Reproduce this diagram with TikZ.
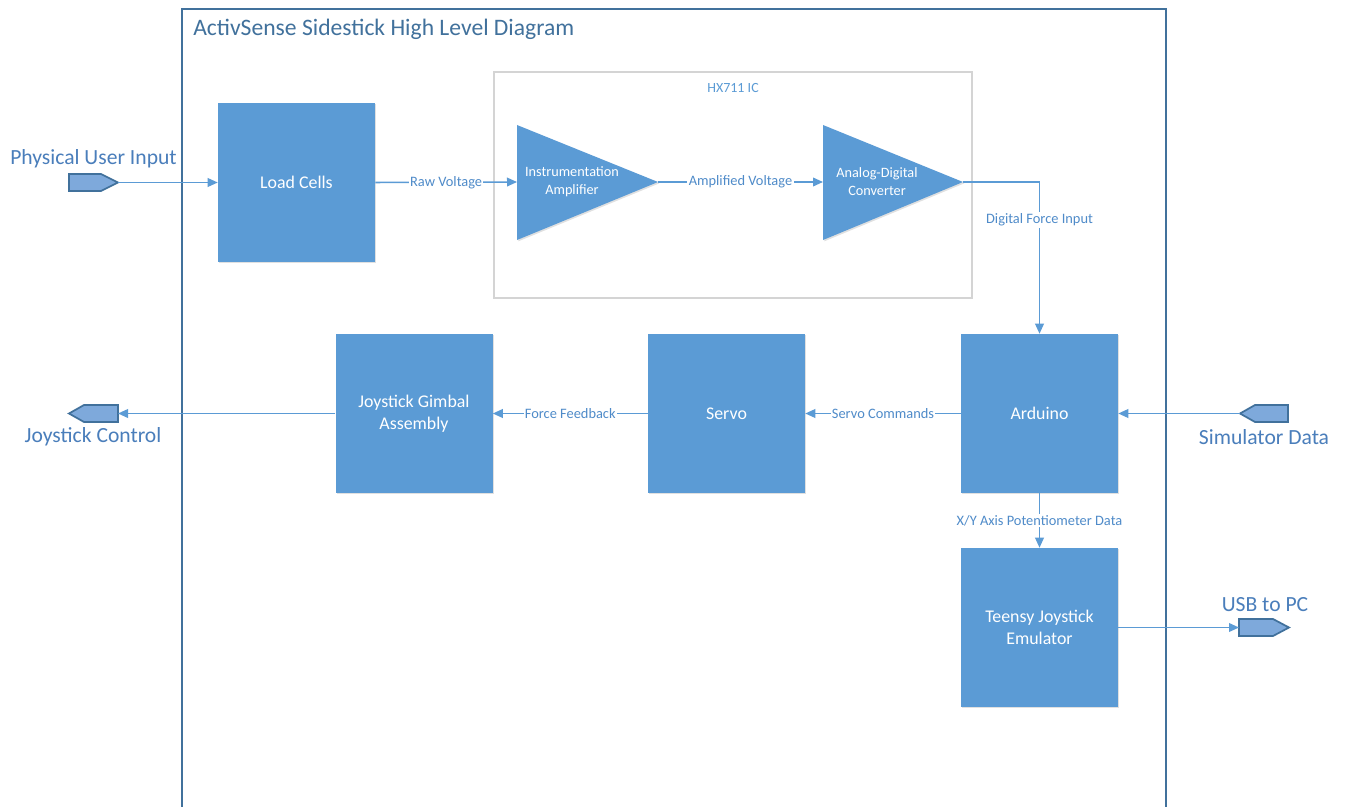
\documentclass[tikz,border=0pt]{standalone}
\usepackage{fontspec}
\setmainfont{Carlito}
\usetikzlibrary{arrows.meta,shadows}
\definecolor{boxblue}{HTML}{5B9BD5}
\definecolor{frameblue}{HTML}{41719C}
\definecolor{lblblue}{HTML}{4A7EBB}
\definecolor{elblblue}{HTML}{4F8BC9}
\definecolor{penfill}{HTML}{7EA9DB}
\definecolor{icgray}{HTML}{D4D4D4}
\begin{document}
\begin{tikzpicture}[x=0.75pt,y=-0.75pt,
  block/.style={fill=boxblue, text=white, minimum width=117.75pt, minimum height=119.25pt, inner sep=0pt, align=center,
    font=\fontsize{13.4}{16.3}\selectfont,
    drop shadow={shadow xshift=1pt,shadow yshift=-1pt,fill=black,opacity=0.12}},
  tri/.style={fill=boxblue, drop shadow={shadow xshift=1pt,shadow yshift=-1pt,fill=black,opacity=0.12}},
  tritext/.style={text=white, align=center, font=\fontsize{10.7}{13.5}\selectfont, inner sep=0pt},
  conn/.style={draw=boxblue, line width=1.15pt, -{Triangle[length=7.5pt,width=6.5pt]}},
  elabel/.style={fill=white, text=elblblue, font=\fontsize{10.8}{12}\selectfont, inner sep=1pt},
  port/.style={fill=penfill, draw=frameblue, line width=1.3pt, line join=miter},
  biglabel/.style={text=lblblue, font=\fontsize{16.2}{19}\selectfont, inner sep=0pt},
]
\clip (0,0) rectangle (1348,806);
\fill[white] (0,0) rectangle (1348,806);

% outer frame
\draw[frameblue, line width=1.1pt] (182,9) rectangle (1166,830);
\node[anchor=west, text=frameblue, font=\fontsize{17.7}{21}\selectfont, inner sep=0pt] (title) at (193,29) {ActivSense Sidestick High Level Diagram};

% HX711 frame
\draw[icgray, line width=1pt] (494,72) rectangle (972,298);
\node[text=boxblue, font=\fontsize{10.5}{12}\selectfont, inner sep=0pt] (hxlabel) at (733,88) {HX711 IC};

% blocks
\node[block] (lc) at (296.5,182.5) {Load Cells};
\node[block] (ard) at (1039.5,413.5) {Arduino};
\node[block] (servo) at (726.5,413.5) {Servo};
\node[block] (gimbal) at (414,413.5) {Joystick Gimbal\\Assembly};
\node[block] (teensy) at (1039.5,627.5) {Teensy Joystick\\Emulator};

% triangles
\fill[tri] (517,125) -- (658,182) -- (517,240) -- cycle;
\fill[tri] (823,125) -- (963,182) -- (823,240) -- cycle;
\coordinate (ia-in) at (517,182);
\coordinate (ia-out) at (658,182);
\coordinate (adc-in) at (823,182);
\coordinate (adc-out) at (963,182);
\node[tritext] (iatext) at (572,182) {Instrumentation\\Amplifier};
\node[tritext] (adctext) at (877,182) {Analog-Digital\\Converter};

% ports
\draw[port] (69,174) -- (101,174) -- (118,182.5) -- (101,191) -- (69,191) -- cycle;
\coordinate (pui) at (118,182.5);
\draw[port] (69,413.5) -- (84,405) -- (118,405) -- (118,422) -- (84,422) -- cycle;
\coordinate (jc) at (118,413.5);
\draw[port] (1240,413.5) -- (1255,405) -- (1288,405) -- (1288,422) -- (1255,422) -- cycle;
\coordinate (sd) at (1240,413.5);
\draw[port] (1239,619) -- (1273,619) -- (1289,627.5) -- (1273,636) -- (1239,636) -- cycle;
\coordinate (usb) at (1239,627.5);

\node[biglabel] (puilbl) at (93.5,159) {Physical User Input};
\node[biglabel] (jclbl) at (93,437) {Joystick Control};
\node[biglabel] (sdlbl) at (1264,437) {Simulator Data};
\node[biglabel] (usblbl) at (1265,605) {USB to PC};

% connectors
\draw[conn] (pui) -- (lc.west);
\draw[conn] (lc.east) -- node[elabel] {Raw Voltage} (ia-in);
\draw[conn] (ia-out) -- node[elabel] {Amplified Voltage} (adc-in);
\draw[conn] (adc-out) -| node[elabel, pos=0.625] {Digital Force Input} (ard.north);
\draw[conn] (ard.west) -- node[elabel] {Servo Commands} (servo.east);
\draw[conn] (servo.west) -- node[elabel] {Force Feedback} (gimbal.east);
\draw[conn] (gimbal.west) -- (jc);
\draw[conn] (sd) -- (ard.east);
\draw[conn] (ard.south) -- node[elabel] {X/Y Axis Potentiometer Data} (teensy.north);
\draw[conn] (teensy.east) -- (usb);
\end{tikzpicture}
\end{document}
